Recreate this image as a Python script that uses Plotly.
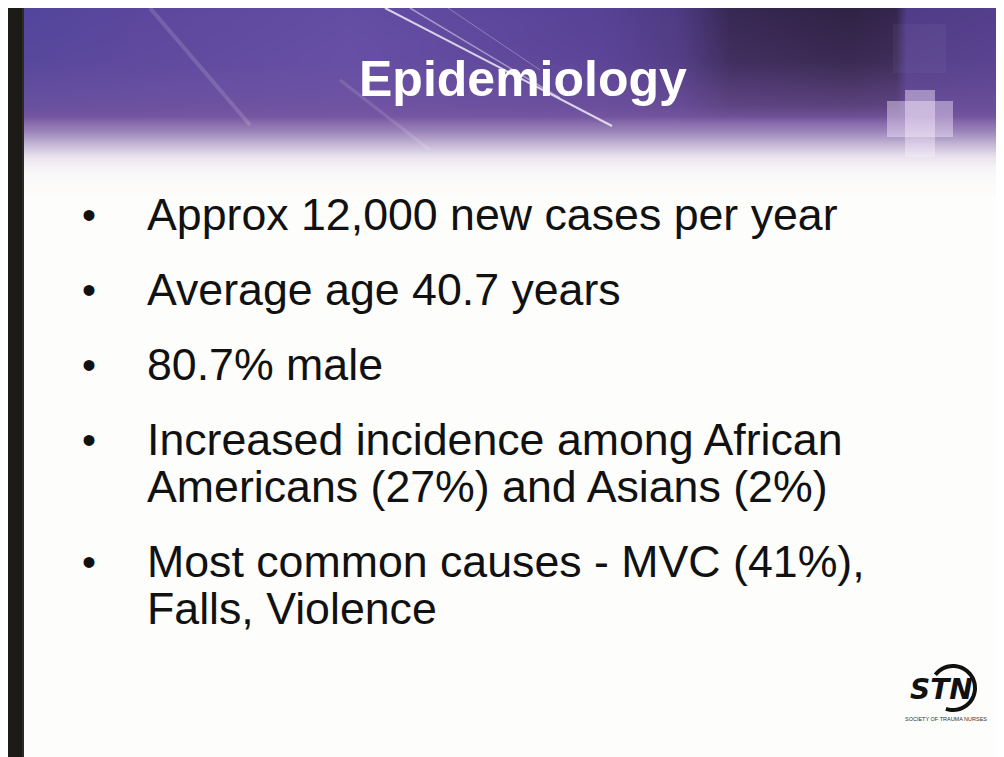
import base64
import struct
import zlib

import numpy as np
import plotly.graph_objects as go

# ---------------- content ----------------
title = "Epidemiology"
bullets = [
    ["Approx 12,000 new cases per year"],
    ["Average age 40.7 years"],
    ["80.7% male"],
    ["Increased incidence among African", "Americans (27%) and Asians (2%)"],
    ["Most common causes - MVC (41%),", "Falls, Violence"],
]
logo_text = "STN"
logo_sub = "SOCIETY OF TRAUMA NURSES"

W, H = 1004, 757
OFF = 8                      # page offset of the figure (body margin)
X0, X1 = OFF, OFF + W        # axis ranges in page pixel units
Y0, Y1 = OFF, OFF + H
LEFT_BAR = 24
HEADER_BOTTOM = 195


# ---------------- header gradient as PNG ----------------
def png_data_uri(arr):
    h, w, _ = arr.shape
    raw = b"".join(b"\x00" + arr[i].tobytes() for i in range(h))

    def chunk(tag, data):
        c = struct.pack(">I", len(data)) + tag + data
        return c + struct.pack(">I", zlib.crc32(tag + data) & 0xFFFFFFFF)

    png = b"\x89PNG\r\n\x1a\n"
    png += chunk(b"IHDR", struct.pack(">IIBBBBB", w, h, 8, 2, 0, 0, 0))
    png += chunk(b"IDAT", zlib.compress(raw, 9))
    png += chunk(b"IEND", b"")
    return "data:image/png;base64," + base64.b64encode(png).decode()


gw = X1 - LEFT_BAR
gh = HEADER_BOTTOM - Y0
xs = np.arange(gw) + LEFT_BAR
ys = np.arange(gh) + Y0
kx = [24, 150, 350, 600, 680, 730, 850, 896, 906, 1012]
kr = [82, 92, 100, 88, 78, 56, 48, 54, 80, 86]
kg = [70, 72, 78, 66, 58, 40, 34, 38, 60, 64]
kb = [156, 158, 165, 150, 130, 84, 68, 78, 135, 142]
base = np.stack([np.interp(xs, kx, kr), np.interp(xs, kx, kg), np.interp(xs, kx, kb)], axis=-1)
mid = np.array([120, 88, 162.0])
s = np.interp(ys, [8, 60, 105, 122], [0.0, 0.15, 0.6, 1.0])[:, None, None]
col = base[None, :, :] * (1 - s) + mid * s
t = np.interp(ys, [116, 130, 144, 156, 167, 180, 195],
              [0.0, 0.25, 0.58, 0.84, 0.95, 0.99, 1.0])[:, None, None]
col = col * (1 - t) + np.array([253, 252, 251.0]) * t
img = np.clip(col, 0, 255).astype(np.uint8)
header_uri = png_data_uri(img)

fig = go.Figure()

# invisible trace so axes exist
fig.add_trace(go.Scatter(x=[X0, X1], y=[Y0, Y1], mode="markers",
                         marker=dict(opacity=0), hoverinfo="skip", showlegend=False))

fig.add_layout_image(dict(source=header_uri, xref="x", yref="y", x=LEFT_BAR, y=Y0,
                          sizex=gw, sizey=gh, sizing="stretch", layer="below"))

shapes = []
# light streaks
for (x0, y0, x1, y1, op, wd) in [
    (385, 8, 612, 126, 0.75, 2),
    (410, 8, 560, 98, 0.45, 1.5),
    (448, 8, 540, 70, 0.30, 1),
    (150, 8, 250, 125, 0.14, 4),
    (340, 80, 430, 150, 0.12, 3),
]:
    shapes.append(dict(type="line", x0=x0, y0=y0, x1=x1, y1=y1, xref="x", yref="y",
                       line=dict(color=f"rgba(255,255,255,{op})", width=wd)))
# faint cross
shapes.append(dict(type="rect", x0=887, x1=953, y0=101, y1=137, xref="x", yref="y",
                   fillcolor="rgba(250,238,255,0.42)", line=dict(width=0)))
shapes.append(dict(type="rect", x0=905, x1=935, y0=90, y1=157, xref="x", yref="y",
                   fillcolor="rgba(250,238,255,0.42)", line=dict(width=0)))
shapes.append(dict(type="rect", x0=893, x1=946, y0=24, y1=73, xref="x", yref="y",
                   fillcolor="rgba(200,190,230,0.06)", line=dict(width=0)))
# black frame
shapes.append(dict(type="rect", x0=X0, x1=LEFT_BAR, y0=Y0, y1=Y1, xref="x", yref="y",
                   fillcolor="#1d1b17", line=dict(width=0)))
shapes.append(dict(type="line", x0=LEFT_BAR - 1, x1=LEFT_BAR - 1, y0=Y0, y1=Y1, xref="x", yref="y",
                   line=dict(color="#3c3a35", width=1)))
# logo arc
cx, cy, r = 953, 688, 22
ang = np.linspace(-2.5, 1.9, 50)
path = "M " + " L ".join(f"{cx + r * np.cos(a):.1f},{cy + r * np.sin(a):.1f}" for a in ang)
shapes.append(dict(type="path", path=path, xref="x", yref="y",
                   line=dict(color="#111111", width=4)))
fig.update_layout(shapes=shapes)

FONT = "Liberation Sans, Arial, sans-serif"
ann = []
ann.append(dict(x=523, y=79, text=f"<b>{title}</b>", showarrow=False, xanchor="center",
                yanchor="middle", font=dict(family=FONT, size=50, color="white")))

BULLET_STEP = 75
LINE_STEP = 47
y = 214
for lines in bullets:
    ann.append(dict(x=89, y=y + 1, text="•", showarrow=False, xanchor="center", yanchor="middle",
                    font=dict(family=FONT, size=40, color="#111111")))
    for j, line in enumerate(lines):
        ann.append(dict(x=145, y=y + j * LINE_STEP, text=line, showarrow=False, xanchor="left",
                        yanchor="middle", font=dict(family=FONT, size=44.7, color="#111111")))
    y += (len(lines) - 1) * LINE_STEP + BULLET_STEP

ann.append(dict(x=941, y=689, text=f"<b><i>{logo_text}</i></b>", showarrow=False,
                xanchor="center", yanchor="middle",
                font=dict(family="DejaVu Sans, sans-serif", size=28, color="#111111")))
ann.append(dict(x=946, y=719, text=logo_sub, showarrow=False, xanchor="center",
                yanchor="middle", font=dict(family=FONT, size=5.5, color="#333333")))
fig.update_layout(annotations=ann)

fig.update_layout(
    width=W, height=H,
    margin=dict(l=0, r=0, t=0, b=0),
    paper_bgcolor="#fdfdfb", plot_bgcolor="#fdfdfb",
    xaxis=dict(range=[X0, X1], visible=False, fixedrange=True),
    yaxis=dict(range=[Y1, Y0], visible=False, fixedrange=True),
    showlegend=False,
)

fig.write_html("out.html")
